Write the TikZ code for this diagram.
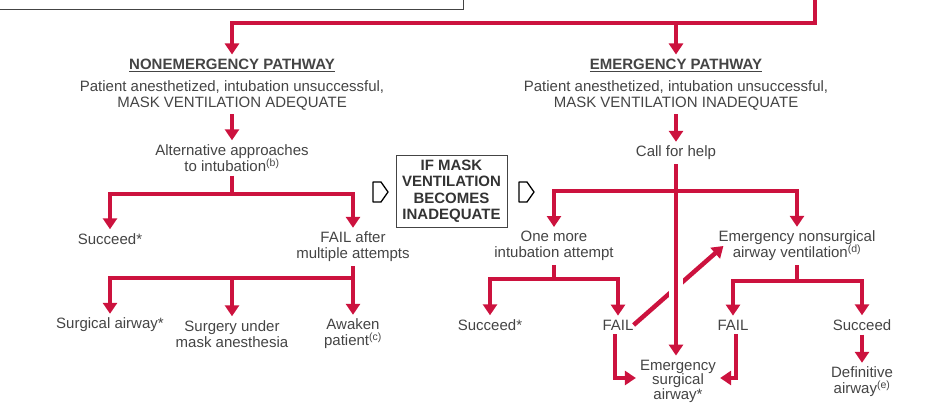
\documentclass[tikz,border=0pt]{standalone}
\usepackage{fontspec}
\setmainfont{Liberation Sans}
\usetikzlibrary{arrows.meta}
\definecolor{airred}{RGB}{204,18,62}
\definecolor{txtgray}{RGB}{68,68,68}
\begin{document}
\begin{tikzpicture}[x=1pt,y=-1pt, font=\fontsize{15}{16}\selectfont,
		lbl/.style={text=txtgray, align=center, inner sep=4pt},
		ttl/.style={text=txtgray, font=\fontsize{15}{16}\selectfont\bfseries, inner sep=4pt},
		flow/.style={draw=airred, line width=4.5pt, -{Triangle[width=14pt,length=11pt]}},
		hollow/.style={draw=black, line width=1.3pt, fill=white, line join=round}]
	\useasboundingbox (0,0) rectangle (927,403);
	\clip (0,0) rectangle (927,403);
	\def\ytop{23} % heights of the red bars
	\def\ybarA{194}
	\def\ybarB{278}
	\def\ybarC{191}
	\def\ybarD{279}
	\def\ybarE{281}
	% box above, only its lower edge is seen
	\draw[txtgray, line width=0.9pt] (-5,-30) rectangle (463,9);
	\coordinate (feed) at (815,-5);
	% nonemergency side
	\node[ttl] (nonem) at (232,65) {\underline{NONEMERGENCY PATHWAY}};
	\node[lbl] (nonemtxt) at (232,95) {Patient anesthetized, intubation unsuccessful,\\MASK VENTILATION ADEQUATE};
	\node[lbl] (alt) at (232,158) {Alternative approaches\\to intubation\textsuperscript{(b)}};
	\node[lbl] (lsucc) at (110,239) {Succeed*};
	\node[lbl] (lfail) at (353,247) {FAIL after\\multiple attempts};
	\node[lbl] (lsurg) at (110,325) {Surgical airway*};
	\node[lbl] (lmask) at (232,334) {Surgery under\\mask anesthesia};
	\node[lbl] (lawake) at (353,334) {Awaken\\patient\textsuperscript{(c)}};
	% middle box
	\node[draw=txtgray, line width=0.9pt, font=\fontsize{15}{16.5}\selectfont\bfseries, text=black!80, align=center,
		minimum width=111pt, minimum height=72pt, inner sep=2pt] (ifmask) at (451.5,191) {IF MASK\\VENTILATION\\BECOMES\\INADEQUATE};
	\foreach \hx in {373,519}
		\draw[hollow] (\hx,182) -- ++(8,0) -- ++(7,10) -- ++(-7,10) -- ++(-8,0) -- cycle;
	% emergency side
	\node[ttl] (emer) at (676,65) {\underline{EMERGENCY PATHWAY}};
	\node[lbl] (emertxt) at (676,95) {Patient anesthetized, intubation unsuccessful,\\MASK VENTILATION INADEQUATE};
	\node[lbl] (help) at (676,153) {Call for help};
	\node[lbl] (onemore) at (554,246) {One more\\intubation attempt};
	\node[lbl] (nonsurg) at (797,246) {Emergency nonsurgical\\airway ventilation\textsuperscript{(d)}};
	\node[lbl] (rsucc) at (490,325) {Succeed*};
	\node[lbl] (rfail) at (618,325) {FAIL};
	\node[lbl] (nfail) at (733,325) {FAIL};
	\node[lbl] (nsucc) at (862,325) {Succeed};
	\node[lbl, font=\fontsize{15}{14.5}\selectfont] (esa) at (678,381) {Emergency\\surgical\\airway*};
	\node[lbl] (defin) at (862,382) {Definitive\\airway\textsuperscript{(e)}};
	% red connectors
	\draw[flow] (feed) -- (feed |- 0,\ytop) -| (nonem.north);
	\draw[flow] (emer.north |- 0,\ytop) -- (emer.north);
	\draw[flow] (nonemtxt.south) -- (alt.north);
	\draw[flow] (alt.south) -- (alt.south |- 0,\ybarA) -| (lsucc.north);
	\draw[flow] (alt.south |- 0,\ybarA) -| (lfail.north);
	\draw[flow] (lfail.south) -- (lfail.south |- 0,\ybarB) -| (lsurg.north);
	\draw[flow] (lfail.south |- 0,\ybarB) -| (lmask.north);
	\draw[flow] (lfail.south) -- (lawake.north);
	\draw[flow] (emertxt.south) -- (help.north);
	\draw[flow] ([xshift=-4pt]rfail.east) -- ([xshift=9pt]nonsurg.west);
	\draw[flow, preaction={draw=white, line width=14pt, -}] (help.south) -- (help.south |- esa.north);
	\draw[flow] (help.south |- 0,\ybarC) -| (onemore.north);
	\draw[flow] (help.south |- 0,\ybarC) -| (nonsurg.north);
	\draw[flow] (onemore.south) -- (onemore.south |- 0,\ybarD) -| (rsucc.north);
	\draw[flow] (onemore.south |- 0,\ybarD) -| (rfail.north);
	\draw[flow] (nonsurg.south) -- (nonsurg.south |- 0,\ybarE) -| (nfail.north);
	\draw[flow] (nonsurg.south |- 0,\ybarE) -| (nsucc.north);
	\draw[flow] ([xshift=-3pt]rfail.south) |- ([yshift=3pt]esa.west);
	\draw[flow] ([xshift=3pt]nfail.south) |- ([yshift=3pt]esa.east);
	\draw[flow] (nsucc.south) -- (defin.north);
\end{tikzpicture}
\end{document}
